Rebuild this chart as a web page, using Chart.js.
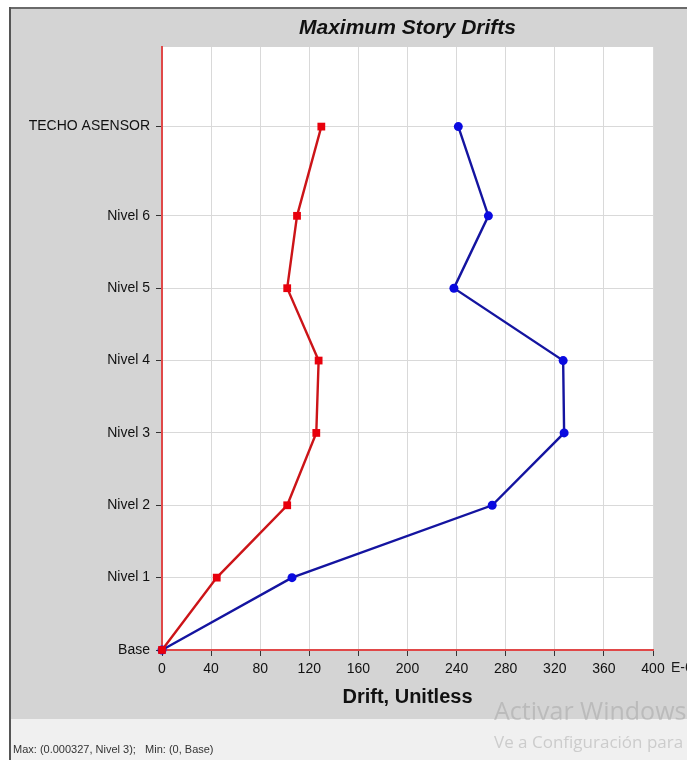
<!DOCTYPE html>
<html>
<head>
<meta charset="utf-8">
<title>Maximum Story Drifts</title>
<script src="https://cdn.jsdelivr.net/npm/chart.js@4.4.1/dist/chart.umd.min.js"></script>
<style>
  html, body { margin: 0; padding: 0; background: #fff; }
  #wrap { width: 687px; height: 760px; }
</style>
</head>
<body>
<div id="wrap"><canvas id="drifts" width="687" height="760"></canvas></div>
<script>
// story names and elevations (m)
const storyNames = ["Base", "Nivel 1", "Nivel 2", "Nivel 3", "Nivel 4", "Nivel 5", "Nivel 6", "TECHO ASENSOR"];
const storyElev = [0, 3, 6, 9, 12, 15, 18, 21.7];

// drift values, E-6
const driftRed = [0, 44.6, 102, 125.7, 127.6, 102, 110, 129.8];
const driftBlue = [0, 105.9, 269, 327.6, 326.8, 237.8, 265.9, 241.4];

const xMin = 0, xMax = 400, xStep = 40;
const yMin = 0, yMax = 25;

const FONT = "Arial, 'Liberation Sans', sans-serif";

const toPoints = arr => arr.map((v, i) => ({ x: v, y: storyElev[i] }));

// =========================
// FONDO / TEXTOS
// =========================
const framePlugin = {
  id: "frame",
  beforeDraw(chart) {
    const { ctx, chartArea: a, width, height } = chart;
    ctx.save();
    ctx.fillStyle = "#ffffff";
    ctx.fillRect(0, 0, width, height);
    ctx.fillStyle = "#d4d4d4";
    ctx.fillRect(10, 8, width - 10, 711);
    ctx.fillStyle = "#f0f0f0";
    ctx.fillRect(10, 719, width - 10, height - 719);
    ctx.fillStyle = "#6a6a6a";
    ctx.fillRect(10, 7, width - 10, 2);
    ctx.fillStyle = "#555555";
    ctx.fillRect(9, 7, 2, height - 7);
    ctx.fillStyle = "#ffffff";
    ctx.fillRect(a.left, a.top, a.right - a.left, a.bottom - a.top);
    ctx.restore();
  },
  afterDraw(chart) {
    const { ctx, chartArea: a } = chart;
    const cx = (a.left + a.right) / 2;
    ctx.save();
    ctx.fillStyle = "#111";
    ctx.textAlign = "center";
    ctx.textBaseline = "middle";
    ctx.font = "italic bold 21px " + FONT;
    ctx.fillText("Maximum Story Drifts", cx, 28);
    ctx.font = "bold 20px " + FONT;
    ctx.fillText("Drift, Unitless", cx, 697);

    ctx.textAlign = "left";
    ctx.font = "14px " + FONT;
    ctx.fillStyle = "#1a1a1a";
    ctx.fillText("E-6", 671, 668);

    ctx.font = "11px " + FONT;
    ctx.fillStyle = "#333";
    ctx.textBaseline = "alphabetic";
    ctx.fillText("Max: (0.000327, Nivel 3);   Min: (0, Base)", 13, 753);

    ctx.fillStyle = "rgba(150,150,150,0.4)";
    ctx.font = "25px 'Open Sans', sans-serif";
    ctx.fillText("Activar Windows", 494, 720);
    ctx.font = "17px 'Open Sans', sans-serif";
    ctx.fillText("Ve a Configuración para activar Windows.", 494, 748);
    ctx.restore();
  }
};

// =========================
// GRAFICO
// =========================
const ctx = document.getElementById("drifts").getContext("2d");

new Chart(ctx, {
  type: "scatter",
  data: {
    datasets: [
      {
        label: "X",
        data: toPoints(driftRed),
        showLine: true,
        borderColor: "#cc1418",
        borderWidth: 2.4,
        pointStyle: "rect",
        pointRadius: 5.5,
        pointBackgroundColor: "#e8000c",
        pointBorderColor: "#e8000c",
        pointBorderWidth: 0,
        clip: false
      },
      {
        label: "Y",
        data: toPoints(driftBlue),
        showLine: true,
        borderColor: "#1414a0",
        borderWidth: 2.4,
        pointStyle: "circle",
        pointRadius: 4.5,
        pointBackgroundColor: "#0a0ae0",
        pointBorderColor: "#0a0ae0",
        pointBorderWidth: 0,
        clip: false
      }
    ]
  },
  options: {
    responsive: false,
    animation: false,
    devicePixelRatio: 1,
    layout: { padding: { left: 0, top: 47, right: 34, bottom: 0 } },
    plugins: {
      legend: { display: false },
      tooltip: { enabled: false },
      title: { display: false }
    },
    scales: {
      x: {
        type: "linear",
        min: xMin,
        max: xMax,
        ticks: {
          stepSize: xStep,
          padding: 5,
          color: "#111",
          font: { family: FONT, size: 14 },
          maxRotation: 0
        },
        grid: { color: "#d9d9d9", lineWidth: 1, tickColor: "#333", tickLength: 6 },
        border: { color: "#e04848", width: 2 },
        afterFit: s => { s.height = 110; }
      },
      y: {
        type: "linear",
        min: yMin,
        max: yMax,
        afterBuildTicks: s => { s.ticks = storyElev.map(v => ({ value: v })); },
        ticks: {
          padding: 6,
          color: "#111",
          font: { family: FONT, size: 14 },
          callback: v => storyNames[storyElev.indexOf(v)]
        },
        grid: { color: "#d9d9d9", lineWidth: 1, tickColor: "#333", tickLength: 6 },
        border: { color: "#e04848", width: 2 },
        afterFit: s => { s.width = 162; }
      }
    }
  },
  plugins: [framePlugin]
});
</script>
</body>
</html>
